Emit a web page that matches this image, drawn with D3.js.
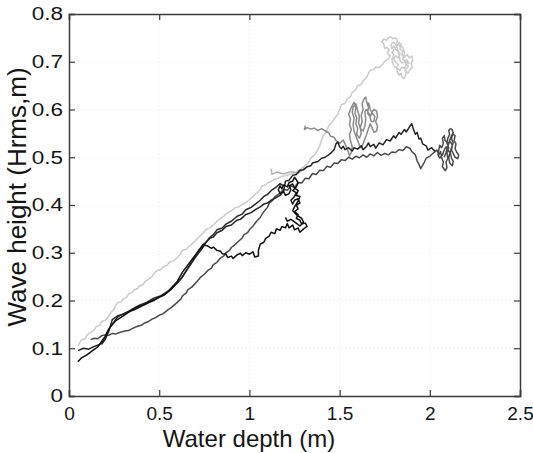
<!DOCTYPE html>
<html><head><meta charset="utf-8">
<script src="https://cdn.jsdelivr.net/npm/d3@7"></script>
<style>body{margin:0;background:#fff}svg{display:block}text{font-family:Arial,"Liberation Sans",Helvetica,sans-serif;fill:#151515}</style>
</head><body><svg id="c" width="533" height="453"></svg>
<script>
// ---- data ----
const xTicks = [0, 0.5, 1, 1.5, 2, 2.5];
const yTicks = [0, 0.1, 0.2, 0.3, 0.4, 0.5, 0.6, 0.7, 0.8];
const xLabel = "Water depth (m)";
const yLabel = "Wave height (Hrms,m)";

const seriesLight = [[0.05,0.105],[0.07,0.118],[0.09,0.12],[0.1,0.128],[0.12,0.133],[0.14,0.138],[0.15,0.145],[0.17,0.148],[0.18,0.156],[0.2,0.158],[0.22,0.167],[0.23,0.174],[0.25,0.182],[0.26,0.19],[0.27,0.196],[0.29,0.197],[0.3,0.203],[0.32,0.207],[0.33,0.214],[0.35,0.217],[0.36,0.222],[0.38,0.225],[0.39,0.231],[0.41,0.233],[0.42,0.239],[0.44,0.244],[0.46,0.25],[0.47,0.256],[0.49,0.263],[0.51,0.265],[0.52,0.27],[0.54,0.273],[0.56,0.281],[0.58,0.283],[0.6,0.29],[0.62,0.298],[0.63,0.306],[0.65,0.307],[0.66,0.312],[0.68,0.318],[0.7,0.325],[0.72,0.333],[0.74,0.34],[0.76,0.349],[0.78,0.352],[0.8,0.358],[0.82,0.366],[0.84,0.372],[0.86,0.377],[0.875,0.383],[0.9,0.388],[0.92,0.394],[0.94,0.396],[0.96,0.401],[0.98,0.405],[1.0,0.411],[1.02,0.418],[1.04,0.425],[1.06,0.432],[1.07,0.44],[1.09,0.442],[1.1,0.446],[1.12,0.449],[1.14,0.454],[1.16,0.456],[1.18,0.46],[1.2,0.461],[1.22,0.464],[1.24,0.466],[1.26,0.469],[1.28,0.474],[1.3,0.48],[1.32,0.486],[1.33,0.491],[1.34,0.498],[1.35,0.502],[1.36,0.505],[1.37,0.51],[1.38,0.517],[1.39,0.524],[1.4,0.536],[1.41,0.545],[1.43,0.557],[1.44,0.566],[1.46,0.574],[1.47,0.58],[1.49,0.59],[1.5,0.6],[1.51,0.61],[1.53,0.613],[1.54,0.621],[1.56,0.627],[1.57,0.636],[1.59,0.641],[1.6,0.65],[1.62,0.653],[1.63,0.66],[1.65,0.667],[1.66,0.676],[1.67,0.682],[1.69,0.684],[1.7,0.689],[1.72,0.688],[1.74,0.695],[1.75,0.701],[1.77,0.706],[1.78,0.712],[1.765,0.718],[1.775,0.725],[1.76,0.73],[1.75,0.728],[1.745,0.737],[1.735,0.742],[1.745,0.748],[1.76,0.745],[1.77,0.75],[1.785,0.752],[1.795,0.748],[1.81,0.75],[1.82,0.744],[1.815,0.737],[1.83,0.733],[1.84,0.738],[1.835,0.727],[1.85,0.722],[1.845,0.714],[1.86,0.71],[1.875,0.715],[1.885,0.708],[1.9,0.712],[1.905,0.703],[1.895,0.696],[1.905,0.688],[1.89,0.684],[1.88,0.676],[1.87,0.68],[1.865,0.671],[1.855,0.665],[1.845,0.668],[1.84,0.676],[1.83,0.672],[1.82,0.679],[1.815,0.688],[1.825,0.694],[1.81,0.699],[1.8,0.706],[1.81,0.713],[1.825,0.708],[1.835,0.716],[1.825,0.722],[1.81,0.726],[1.8,0.733],[1.79,0.727],[1.785,0.736],[1.795,0.741],[1.81,0.737],[1.82,0.729],[1.835,0.703],[1.845,0.697],[1.86,0.701],[1.87,0.693],[1.86,0.686],[1.845,0.689],[1.835,0.682],[1.82,0.686],[1.805,0.69],[1.795,0.696],[1.79,0.705],[1.8,0.715],[1.79,0.72],[1.83,0.74],[1.85,0.73],[1.86,0.72],[1.85,0.705],[1.87,0.7],[1.885,0.697],[1.87,0.705],[1.88,0.69],[1.86,0.68]];
const seriesLight2 = [[1.12,0.476],[1.125,0.464],[1.15,0.469],[1.19,0.465],[1.23,0.47],[1.27,0.466],[1.3,0.475],[1.32,0.481]];
const seriesMid = [[1.31,0.566],[1.305,0.558],[1.32,0.562],[1.34,0.559],[1.36,0.561],[1.38,0.556],[1.4,0.56],[1.42,0.555],[1.44,0.551],[1.45,0.544],[1.47,0.542],[1.48,0.535],[1.5,0.529],[1.52,0.536],[1.53,0.528],[1.545,0.515],[1.555,0.503],[1.565,0.51],[1.57,0.522],[1.56,0.535],[1.555,0.548],[1.565,0.558],[1.555,0.568],[1.56,0.58],[1.55,0.59],[1.56,0.6],[1.57,0.608],[1.58,0.615],[1.59,0.605],[1.585,0.592],[1.595,0.582],[1.59,0.57],[1.6,0.56],[1.595,0.548],[1.61,0.54],[1.62,0.55],[1.615,0.562],[1.625,0.575],[1.62,0.588],[1.63,0.6],[1.625,0.612],[1.635,0.622],[1.645,0.626],[1.65,0.615],[1.66,0.605],[1.655,0.592],[1.67,0.585],[1.68,0.595],[1.69,0.6],[1.705,0.597],[1.71,0.585],[1.7,0.575],[1.71,0.565],[1.705,0.555],[1.69,0.552],[1.68,0.562],[1.67,0.57],[1.66,0.56],[1.65,0.548],[1.64,0.538],[1.63,0.528],[1.62,0.52],[1.61,0.525],[1.6,0.535],[1.59,0.545],[1.58,0.555],[1.575,0.568],[1.58,0.582],[1.57,0.594],[1.575,0.605],[1.59,0.612],[1.6,0.598],[1.61,0.585],[1.605,0.572],[1.615,0.56],[1.63,0.555],[1.64,0.565],[1.645,0.58],[1.64,0.595],[1.65,0.6],[1.665,0.59],[1.675,0.575],[1.69,0.575],[1.695,0.585],[1.685,0.59],[1.67,0.6],[1.66,0.615]];
const seriesDark = [[0.12,0.118],[0.14,0.121],[0.16,0.12],[0.18,0.126],[0.2,0.128],[0.22,0.127],[0.24,0.131],[0.26,0.13],[0.28,0.133],[0.31,0.136],[0.33,0.137],[0.35,0.141],[0.38,0.146],[0.4,0.148],[0.42,0.153],[0.44,0.156],[0.46,0.161],[0.48,0.164],[0.5,0.169],[0.52,0.172],[0.55,0.181],[0.57,0.186],[0.6,0.196],[0.62,0.203],[0.63,0.21],[0.65,0.216],[0.66,0.223],[0.68,0.228],[0.71,0.24],[0.73,0.249],[0.75,0.255],[0.77,0.263],[0.79,0.268],[0.8,0.275],[0.82,0.28],[0.84,0.289],[0.86,0.294],[0.87,0.3],[0.89,0.305],[0.9,0.311],[0.92,0.317],[0.94,0.324],[0.96,0.331],[0.97,0.338],[0.99,0.342],[1.0,0.348],[1.02,0.356],[1.04,0.366],[1.06,0.374],[1.08,0.386],[1.1,0.395],[1.11,0.404],[1.13,0.41],[1.14,0.417],[1.17,0.425],[1.19,0.433],[1.21,0.431],[1.23,0.44],[1.25,0.437],[1.27,0.447],[1.29,0.446],[1.31,0.456],[1.33,0.455],[1.35,0.466],[1.37,0.464],[1.39,0.473],[1.41,0.472],[1.43,0.481],[1.45,0.479],[1.47,0.488],[1.49,0.487],[1.51,0.495],[1.53,0.493],[1.55,0.5],[1.57,0.496],[1.59,0.502],[1.61,0.499],[1.63,0.505],[1.65,0.5],[1.67,0.507],[1.69,0.503],[1.71,0.51],[1.73,0.504],[1.75,0.508],[1.77,0.505],[1.79,0.511],[1.81,0.51],[1.83,0.516],[1.85,0.514],[1.87,0.522],[1.89,0.519],[1.9,0.512],[1.92,0.505],[1.93,0.492],[1.94,0.485],[1.95,0.476],[1.96,0.483],[1.97,0.49],[1.98,0.498],[2.0,0.502],[2.02,0.509],[2.04,0.515],[2.05,0.505],[2.06,0.512],[2.065,0.5],[2.075,0.49],[2.07,0.48],[2.085,0.472],[2.095,0.478],[2.09,0.49],[2.1,0.498],[2.095,0.51],[2.105,0.52],[2.095,0.53],[2.1,0.54],[2.11,0.548],[2.105,0.556],[2.115,0.56],[2.125,0.558],[2.13,0.548],[2.14,0.545],[2.135,0.535],[2.145,0.528],[2.14,0.518],[2.15,0.51],[2.16,0.505],[2.155,0.497],[2.14,0.5],[2.13,0.508],[2.12,0.515],[2.125,0.525],[2.115,0.532],[2.1,0.53],[2.085,0.535],[2.08,0.545],[2.07,0.54],[2.075,0.528],[2.065,0.52],[2.055,0.525],[2.05,0.515],[2.045,0.505],[2.055,0.498],[2.07,0.505],[2.08,0.515],[2.09,0.522],[2.1,0.515],[2.115,0.508],[2.12,0.498],[2.13,0.492],[2.125,0.482],[2.11,0.488],[2.105,0.5],[2.12,0.52],[2.13,0.53],[2.12,0.54],[2.13,0.552],[2.12,0.545],[2.11,0.535],[2.09,0.51],[2.08,0.5]];
const seriesBlackA = [[0.05,0.095],[0.08,0.1],[0.11,0.098],[0.14,0.104],[0.17,0.108],[0.19,0.115],[0.21,0.13],[0.23,0.145],[0.25,0.155],[0.27,0.166],[0.3,0.172],[0.33,0.177],[0.36,0.18],[0.4,0.188],[0.44,0.195],[0.47,0.2],[0.5,0.207],[0.53,0.213],[0.56,0.222],[0.6,0.236],[0.63,0.25],[0.65,0.262],[0.68,0.28],[0.71,0.3],[0.74,0.316],[0.76,0.322],[0.78,0.33],[0.8,0.333],[0.82,0.342],[0.85,0.347],[0.87,0.355],[0.9,0.358],[0.93,0.368],[0.95,0.37],[0.98,0.38],[1.01,0.384],[1.04,0.392],[1.06,0.396],[1.08,0.402],[1.1,0.404],[1.12,0.41],[1.14,0.414],[1.17,0.42],[1.19,0.43],[1.2,0.45],[1.22,0.452],[1.24,0.462],[1.26,0.464],[1.28,0.473],[1.3,0.474],[1.32,0.48],[1.34,0.482],[1.35,0.488],[1.38,0.491],[1.4,0.498],[1.42,0.5],[1.45,0.508],[1.47,0.516],[1.48,0.528],[1.49,0.532],[1.5,0.522],[1.51,0.518],[1.52,0.523],[1.53,0.516],[1.55,0.52],[1.57,0.513],[1.58,0.52],[1.6,0.517],[1.62,0.524],[1.63,0.516],[1.65,0.523],[1.66,0.53],[1.67,0.522],[1.69,0.527],[1.7,0.519],[1.72,0.53],[1.74,0.526],[1.76,0.537],[1.78,0.534],[1.8,0.545],[1.81,0.54],[1.83,0.552],[1.84,0.548],[1.86,0.558],[1.87,0.553],[1.89,0.565],[1.9,0.57],[1.91,0.558],[1.92,0.548],[1.93,0.552],[1.94,0.538],[1.95,0.54],[1.96,0.528],[1.98,0.524],[1.99,0.515],[2.01,0.52],[2.03,0.512]];
const seriesBlackB = [[0.05,0.072],[0.07,0.08],[0.1,0.086],[0.13,0.095],[0.16,0.103],[0.18,0.114],[0.2,0.125],[0.22,0.14],[0.24,0.15],[0.26,0.158],[0.29,0.165],[0.33,0.175],[0.37,0.185],[0.41,0.19],[0.45,0.198],[0.49,0.205],[0.53,0.212],[0.57,0.225],[0.6,0.24],[0.63,0.26],[0.66,0.275],[0.69,0.29],[0.72,0.305],[0.75,0.316],[0.77,0.314],[0.79,0.309],[0.8,0.312],[0.82,0.305],[0.84,0.303],[0.85,0.298],[0.87,0.297],[0.88,0.29],[0.9,0.293],[0.91,0.288],[0.93,0.295],[0.95,0.299],[0.96,0.294],[0.98,0.3],[1.0,0.297],[1.02,0.302],[1.03,0.291],[1.05,0.293],[1.05,0.305],[1.06,0.318],[1.08,0.322],[1.09,0.33],[1.11,0.335],[1.12,0.343],[1.14,0.34],[1.15,0.35],[1.17,0.347],[1.18,0.355],[1.2,0.352],[1.21,0.361],[1.22,0.352],[1.24,0.358],[1.25,0.348],[1.27,0.352],[1.28,0.343],[1.3,0.35],[1.32,0.355],[1.31,0.362],[1.29,0.36],[1.28,0.368],[1.26,0.372],[1.27,0.38],[1.25,0.386],[1.27,0.392],[1.26,0.4],[1.28,0.404],[1.27,0.413],[1.25,0.41],[1.24,0.402],[1.23,0.41],[1.25,0.418],[1.26,0.426],[1.24,0.43],[1.26,0.438],[1.27,0.446],[1.26,0.453],[1.25,0.458],[1.24,0.45],[1.22,0.447],[1.21,0.438],[1.19,0.442],[1.18,0.434],[1.17,0.44],[1.16,0.432],[1.17,0.424],[1.19,0.428],[1.2,0.42],[1.22,0.424],[1.23,0.432],[1.22,0.44],[1.24,0.444],[1.25,0.436],[1.27,0.43],[1.26,0.42],[1.28,0.418],[1.27,0.408],[1.25,0.396],[1.24,0.388],[1.26,0.38],[1.29,0.372],[1.3,0.364],[1.28,0.356],[1.26,0.362],[1.23,0.37],[1.21,0.366],[1.2,0.374]];
const seriesBlackC = [[0.18,0.108],[0.2,0.118],[0.22,0.135],[0.24,0.16],[0.27,0.168],[0.31,0.172],[0.35,0.182],[0.39,0.19],[0.43,0.196],[0.47,0.205],[0.51,0.21],[0.55,0.22],[0.58,0.232],[0.62,0.245],[0.66,0.268],[0.7,0.29],[0.74,0.31],[0.76,0.322],[0.78,0.332],[0.8,0.338],[0.82,0.348],[0.85,0.352],[0.87,0.36],[0.9,0.366],[0.93,0.376],[0.96,0.381],[0.98,0.39],[1.01,0.395],[1.04,0.404],[1.06,0.41],[1.08,0.418],[1.1,0.422],[1.12,0.43],[1.15,0.438],[1.17,0.445],[1.19,0.44]];

const seriesList = [
  {data: seriesLight, color: "#cbcbcb"},
  {data: seriesLight2, color: "#b5b5b5"},
  {data: seriesMid, color: "#8a8a8a"},
  {data: seriesDark, color: "#4a4a4a"},
  {data: seriesBlackC, color: "#2a2a2a"},
  {data: seriesBlackA, color: "#222"},
  {data: seriesBlackB, color: "#111"}
];

// ---- layout ----
const svg = d3.select("#c");
const L = 69, R = 520, T = 14, B = 396;
const x = d3.scaleLinear().domain([0, 2.5]).range([L, R]);
const y = d3.scaleLinear().domain([0, 0.8]).range([B, T]);

// faint dotted grid
const grid = svg.append("g").attr("stroke", "#e8e8e8").attr("stroke-dasharray", "1,3").attr("stroke-width", 1);
xTicks.slice(1, -1).forEach(v => grid.append("line").attr("x1", x(v)).attr("x2", x(v)).attr("y1", T).attr("y2", B));
yTicks.slice(1, -1).forEach(v => grid.append("line").attr("y1", y(v)).attr("y2", y(v)).attr("x1", L).attr("x2", R));

// lines
const line = d3.line().x(d => x(d[0])).y(d => y(d[1]));
const plot = svg.append("g");
seriesList.forEach(s => {
  plot.append("path").attr("d", line(s.data)).attr("fill", "none")
    .attr("stroke", s.color).attr("stroke-width", 1.5).attr("stroke-linejoin", "round");
});

// axes (box with inward ticks)
const axCol = "#3a3a3a";
const gBottom = svg.append("g").attr("transform", `translate(0,${B})`)
  .call(d3.axisBottom(x).tickValues(xTicks).tickSize(-6).tickPadding(11).tickFormat(d3.format("")));
const gTop = svg.append("g").attr("transform", `translate(0,${T})`)
  .call(d3.axisTop(x).tickValues(xTicks).tickSize(-6).tickFormat(""));
const gLeft = svg.append("g").attr("transform", `translate(${L},0)`)
  .call(d3.axisLeft(y).tickValues(yTicks).tickSize(-6).tickPadding(6).tickFormat(d3.format("")));
const gRight = svg.append("g").attr("transform", `translate(${R},0)`)
  .call(d3.axisRight(y).tickValues(yTicks).tickSize(-6).tickFormat(""));
[gBottom, gTop, gLeft, gRight].forEach(g => {
  g.select(".domain").attr("stroke", axCol).attr("stroke-width", 1.5);
  g.selectAll(".tick line").attr("stroke", axCol).attr("stroke-width", 1.2);
  g.selectAll("text").attr("font-size", 18).attr("fill", "#151515").attr("font-family", "Arial, 'Liberation Sans', sans-serif");
});
// widen tick labels like the reference
gBottom.selectAll(".tick text").attr("transform", "scale(1.06,1)");
gLeft.selectAll(".tick text").attr("x", -6 / 1.25).attr("transform", "scale(1.25,1)");

// axis titles
svg.append("text").attr("x", 249).attr("y", 447).attr("text-anchor", "middle")
  .attr("font-size", 24).text(xLabel);
svg.append("text").attr("transform", "translate(26,197) rotate(-90)").attr("text-anchor", "middle")
  .attr("font-size", 26).text(yLabel);
</script></body></html>
